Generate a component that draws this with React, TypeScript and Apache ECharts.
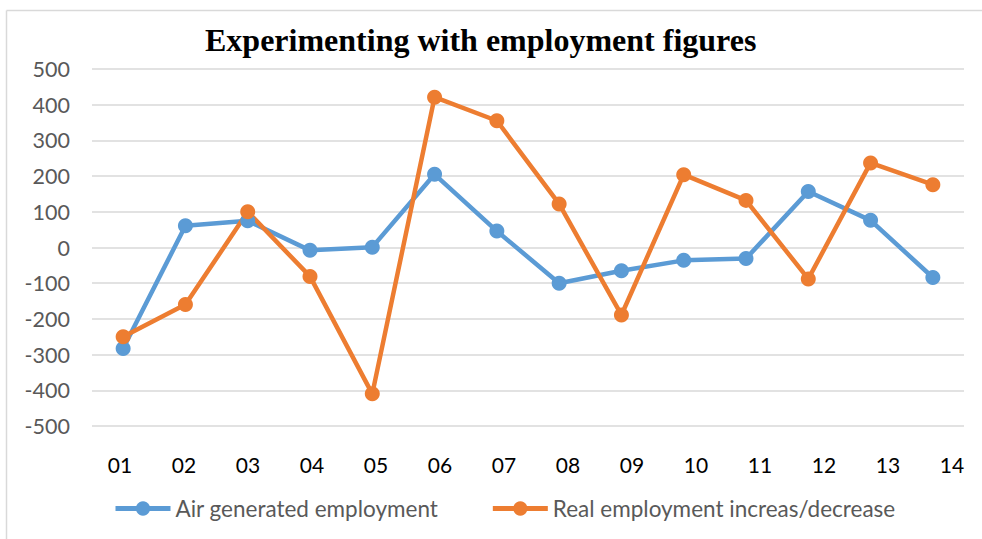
import React, { useEffect, useRef } from "react";
import * as echarts from "echarts";

const categories = ["01", "02", "03", "04", "05", "06", "07", "08", "09", "10", "11", "12", "13", "14"];
const airGenerated = [-283, 61, 75, -8, 1, 205, 46, -100, -65, -36, -31, 157, 76, -84];
const realEmployment = [-250, -160, 100, -81, -410, 421, 355, 122, -189, 204, 132, -88, 237, 176];
const seriesNames = ["Air generated employment", "Real employment increas/decrease"];
const titleText = "Experimenting with employment figures";

export default function App() {
  const ref = useRef<HTMLDivElement>(null);
  useEffect(() => {
    document.body.style.margin = "0";
    if (!ref.current) return;
    const chart = echarts.init(ref.current, null, { renderer: "svg" });
    const labelFont = "Lato, 'Noto Sans', sans-serif";
    chart.setOption({
      animation: false,
      backgroundColor: "#ffffff",
      title: {
        text: titleText,
        left: 200,
        top: 19,
        textStyle: {
          fontFamily: "'Liberation Serif', 'DejaVu Serif', serif",
          fontWeight: "bold",
          fontSize: 32,
          color: "#000000",
        },
      },
      graphic: [
        {
          type: "line",
          shape: { x1: 6.5, y1: 10.5, x2: 982, y2: 10.5 },
          style: { stroke: "#D9D9D9", lineWidth: 1.5 },
        },
        {
          type: "line",
          shape: { x1: 6.5, y1: 10.5, x2: 6.5, y2: 539 },
          style: { stroke: "#D9D9D9", lineWidth: 1.5 },
        },
      ],
      legend: {
        left: 108,
        top: 492,
        itemWidth: 55,
        itemHeight: 18,
        itemGap: 52,
        lineStyle: { width: 5 },
        textStyle: { fontFamily: labelFont, fontSize: 22.5, color: "#595959" },
        data: seriesNames,
      },
      grid: [
        { left: 92, right: 18, top: 69, bottom: 113 },
        { left: 120, right: 30, top: 69, bottom: 113 },
      ],
      xAxis: [
        {
          type: "category",
          gridIndex: 0,
          data: categories,
          boundaryGap: true,
          axisLine: { show: false },
          axisTick: { show: false },
          axisLabel: { show: false },
          splitLine: { show: false },
        },
        {
          type: "category",
          gridIndex: 1,
          data: categories,
          boundaryGap: false,
          axisLine: { show: false },
          axisTick: { show: false },
          axisLabel: { fontFamily: labelFont, fontSize: 21, color: "#000000", margin: 28 },
          splitLine: { show: false },
        },
      ],
      yAxis: [
        {
          type: "value",
          gridIndex: 0,
          min: -500,
          max: 500,
          interval: 100,
          axisLine: { show: false },
          axisTick: { show: false },
          axisLabel: { fontFamily: labelFont, fontSize: 21.5, color: "#595959", margin: 22 },
          splitLine: { lineStyle: { color: "#D9D9D9", width: 1.5 } },
        },
        {
          type: "value",
          gridIndex: 1,
          min: -500,
          max: 500,
          show: false,
        },
      ],
      series: [
        {
          name: seriesNames[0],
          type: "line",
          xAxisIndex: 0,
          yAxisIndex: 0,
          data: airGenerated,
          symbol: "circle",
          symbolSize: 15,
          lineStyle: { color: "#5B9BD5", width: 4.5 },
          itemStyle: { color: "#5B9BD5" },
        },
        {
          name: seriesNames[1],
          type: "line",
          xAxisIndex: 0,
          yAxisIndex: 0,
          data: realEmployment,
          symbol: "circle",
          symbolSize: 15,
          lineStyle: { color: "#ED7D31", width: 4.5 },
          itemStyle: { color: "#ED7D31" },
        },
      ],
    });
    return () => chart.dispose();
  }, []);
  return <div ref={ref} style={{ width: 982, height: 539 }} />;
}
